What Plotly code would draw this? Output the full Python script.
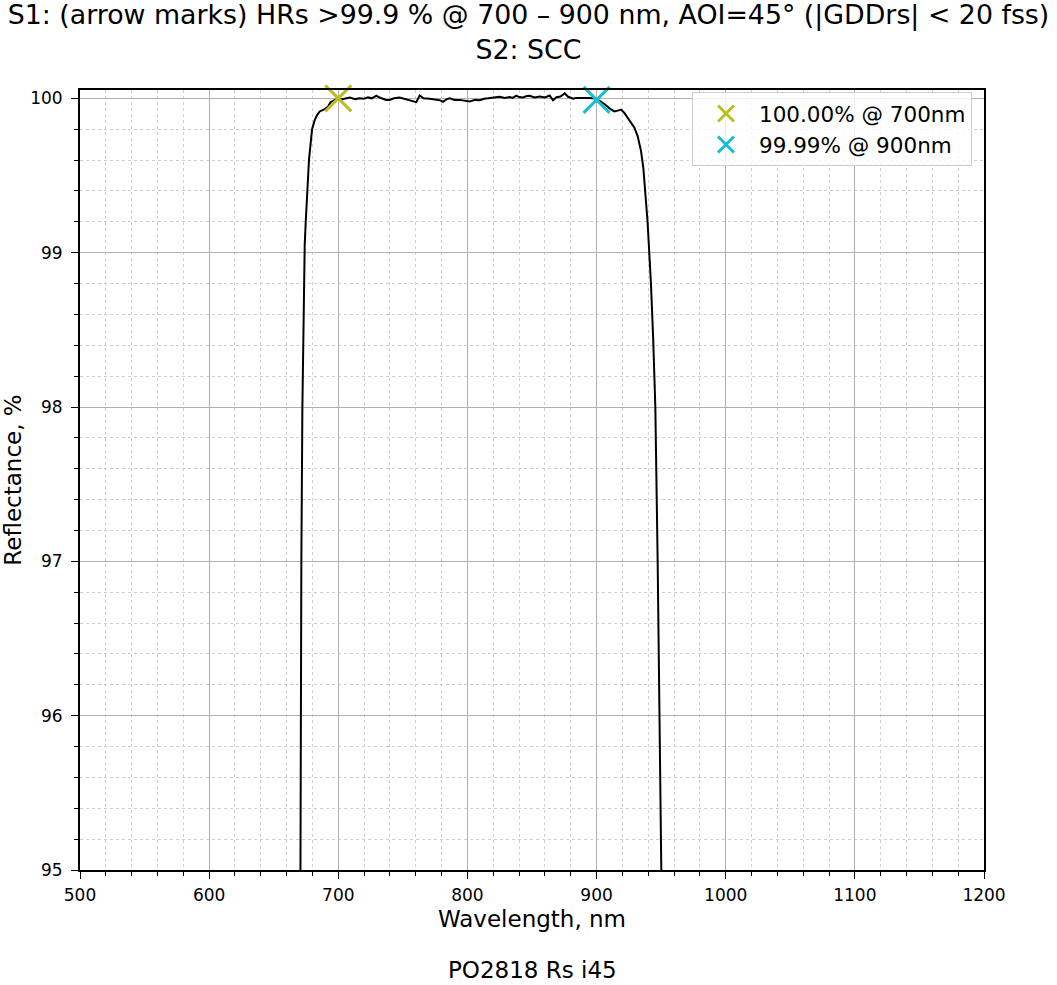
import plotly.graph_objects as go

# Reflectance curve
wavelength = [660, 669, 670.7, 670.9, 671.4, 672.2, 673.2, 674.0, 674.8, 675.8, 677.3, 679.7, 681.8,
              683.5, 685.6, 689.5, 692, 694, 697, 700, 703, 706, 709, 713, 716.5, 720, 723, 726,
              729.5, 732, 734.6, 737, 739.8, 743, 747.5, 751, 755.2, 758, 760.4, 763, 766, 770.7,
              774, 778.5, 781, 784, 786.3, 790, 794, 798, 801.8, 806, 809.5, 813, 817.3, 821, 825,
              829, 832.7, 835, 837.9, 840, 843, 846, 848.2, 852, 856, 860, 863.7, 866.3, 868.9,
              872, 875.3, 878, 881.8, 884, 887, 891, 894.7, 897, 900, 903, 906.3, 910, 913.8, 917,
              919, 921.5, 925.4, 929.3, 931.8, 934.4, 936.2, 937.8, 939.5, 940.8, 942.0, 943.8,
              945.5, 947.3, 948.6, 949.9, 951, 960]
reflectance = [90, 92, 95.0, 96.0, 97.0, 98.0, 98.8, 99.05, 99.2, 99.4, 99.6, 99.8, 99.86,
               99.89, 99.915, 99.93, 99.945, 99.975, 99.99, 100.0, 99.995, 100.0, 100.005, 99.995,
               100.0, 99.998, 100.006, 100.0, 100.018, 100.005, 99.995, 99.99, 99.99, 100.0,
               100.005, 99.997, 99.99, 99.985, 99.975, 100.018, 100.0, 99.998, 99.992, 99.988,
               99.978, 99.995, 100.0, 99.99, 99.99, 99.985, 99.98, 99.99, 99.988, 99.997, 100.0,
               100.005, 100.01, 100.003, 100.008, 100.003, 100.018, 100.008, 100.006, 100.015,
               100.016, 100.005, 100.012, 100.006, 100.018, 99.987, 100.007, 100.012, 100.032,
               100.01, 99.997, 100.002, 100.003, 100.0, 100.002, 100.0, 99.995, 99.98, 99.962,
               99.935, 99.915, 99.922, 99.927, 99.905, 99.86, 99.81, 99.755, 99.66, 99.55, 99.4,
               99.2, 99.0, 98.82, 98.45, 98.0, 97.0, 96.0, 95.0, 93, 88]

# Marked points
mark_wl = [700, 900]
mark_val = [100.00, 99.99]
mark_names = ["100.00% @ 700nm", "99.99% @ 900nm"]
mark_colors = ["#bcbd22", "#17becf"]

x_ticks = [500, 600, 700, 800, 900, 1000, 1100, 1200]
y_ticks = [95, 96, 97, 98, 99, 100]

title_text = ("S1: (arrow marks) HRs >99.9 % @ 700 – 900 nm, AOI=45° (|GDDrs| < 20 fss)"
              "<br>S2: SCC")
footer_text = "PO2818 Rs i45"

FONT = "DejaVu Sans"

fig = go.Figure()
fig.add_trace(go.Scatter(x=wavelength, y=reflectance, mode="lines",
                         line=dict(color="black", width=2), showlegend=False,
                         cliponaxis=True))
for i, (w, v, n, c) in enumerate(zip(mark_wl, mark_val, mark_names, mark_colors)):
    fig.add_trace(go.Scatter(x=[w], y=[v], mode="markers", name=n, legendgroup=f"g{i}",
                             marker=dict(symbol="x-thin", size=26,
                                         line=dict(color=c, width=3), color=c),
                             cliponaxis=False))

grid_major = "#b0b0b0"
grid_minor = "#cfcfcf"

fig.update_layout(
    width=1057, height=985,
    margin=dict(l=80, r=73, t=90, b=115, autoexpand=False),
    paper_bgcolor="white", plot_bgcolor="white",
    font=dict(family=FONT, color="black", size=17),
    title=dict(text=title_text, x=0.5, xref="container", xanchor="center",
               y=1 - 24 / 985, yref="container", yanchor="middle",
               font=dict(family=FONT, size=26.8, color="black")),
    legend=dict(x=0.9867, y=0.9974, xanchor="right", yanchor="top",
                bgcolor="rgba(255,255,255,0.8)", bordercolor="#cccccc", borderwidth=1,
                font=dict(family=FONT, size=21.5), tracegroupgap=0, itemwidth=56),
    annotations=[dict(text=footer_text, x=0.5, xref="paper", y=-(970 - 870) / 780.0,
                      yref="paper", yanchor="middle", showarrow=False,
                      font=dict(family=FONT, size=23))],
)

fig.update_xaxes(
    range=[500, 1200], tickvals=x_ticks, ticktext=[str(t) for t in x_ticks],
    automargin=False,
    showgrid=True, gridcolor=grid_major, gridwidth=1,
    ticks="outside", ticklen=7, tickwidth=1, tickcolor="black",
    showline=True, linecolor="black", linewidth=2, mirror=True,
    zeroline=False, tickfont=dict(size=17), ticklabelstandoff=2,
    title=dict(text="Wavelength, nm", font=dict(size=23), standoff=6),
    minor=dict(dtick=20, tick0=500, showgrid=True, gridcolor=grid_minor, griddash="dot",
               gridwidth=1, ticks="outside", ticklen=4, tickcolor="black"),
)
fig.update_yaxes(
    range=[95, 100.054], tickvals=y_ticks, ticktext=[str(t) for t in y_ticks],
    automargin=False,
    showgrid=True, gridcolor=grid_major, gridwidth=1,
    ticks="outside", ticklen=7, tickwidth=1, tickcolor="black",
    showline=True, linecolor="black", linewidth=2, mirror=True,
    zeroline=False, tickfont=dict(size=17), ticklabelstandoff=5,
    title=dict(text="Reflectance, %", font=dict(size=23), standoff=8),
    minor=dict(dtick=0.2, tick0=95, showgrid=True, gridcolor=grid_minor, griddash="dot",
               gridwidth=1, ticks="outside", ticklen=4, tickcolor="black"),
)

fig.write_html("out.html", config={"displayModeBar": False},
               post_script="document.body.style.margin='0';")
